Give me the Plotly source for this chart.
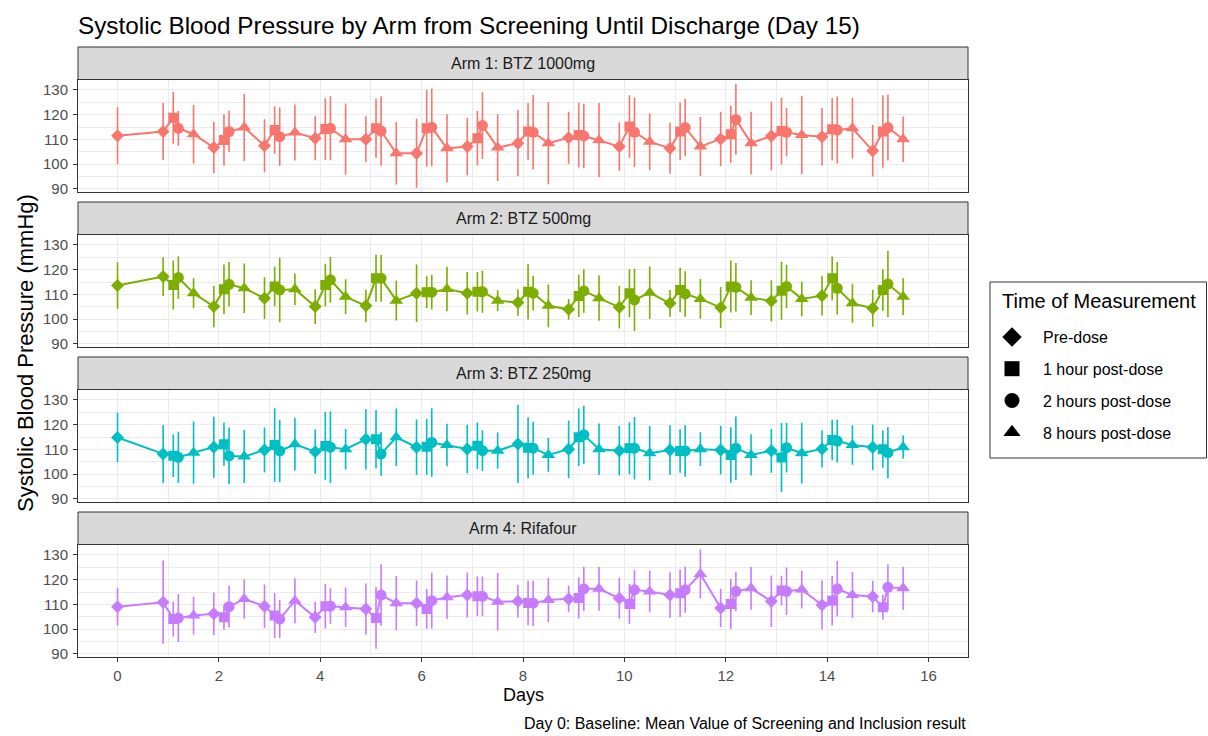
import plotly.graph_objects as go

# ---------------- data ----------------
arm_names = ["Arm 1: BTZ 1000mg", "Arm 2: BTZ 500mg", "Arm 3: BTZ 250mg", "Arm 4: Rifafour"]
arm_colors = ["#F8766D", "#7CAE00", "#00BFC4", "#C77CFF"]

timepoints = ["Pre-dose", "1 hour post-dose", "2 hours post-dose", "8 hours post-dose"]
timepoint_offset = [-0.1, 0.1, 0.2, 0.5]          # day offset of each measurement
timepoint_symbol = ["diamond", "square", "circle", "triangle-up"]
timepoint_msize = [10, 10, 11, 12]
study_days = list(range(1, 16))

# order: day 0 baseline (pre-dose), then day 1..15 x [pre, 1h, 2h, 8h]
arm1_mean = [111.5,
             113.2, 118.8, 114.5, 112.1,
             106.7, 109.8, 113.2, 114.8,
             107.5, 113.8, 111.1, 112.8,
             110.5, 114.2, 114.5, 110.1,
             110.1, 114.5, 113.4, 104.4,
             104.4, 114.5, 114.9, 106.4,
             107.1, 110.5, 115.6, 106.7,
             108.5, 113.2, 112.9, 108.5,
             110.7, 111.8, 111.4, 109.7,
             107.1, 115.2, 112.9, 109.1,
             106.4, 113.2, 114.8, 107.1,
             110.2, 112.1, 118.1, 108.5,
             111.4, 113.4, 112.9, 111.8,
             111.1, 114.1, 113.8, 114.5,
             105.4, 113.2, 114.8, 110.1]
arm1_sd = [11.5,
           11.5, 10.5, 7.0, 11.8,
           10.4, 10.4, 8.4, 13.5,
           10.7, 9.6, 11.8, 11.3,
           8.9, 12.4, 12.9, 14.4,
           9.3, 12.0, 14.0, 12.6,
           14.0, 15.5, 15.7, 13.8,
           11.6, 11.0, 13.5, 13.5,
           13.4, 11.5, 15.0, 16.5,
           10.5, 13.0, 13.0, 15.0,
           9.7, 12.6, 14.0, 11.4,
           10.3, 11.6, 11.6, 12.0,
           11.0, 11.5, 14.3, 12.7,
           13.8, 13.5, 9.8, 15.8,
           11.6, 12.6, 13.5, 12.2,
           10.4, 14.6, 13.3, 9.2]

arm2_mean = [113.6,
             117.2, 113.8, 116.8, 110.5,
             105.1, 112.1, 114.1, 112.5,
             108.5, 113.2, 111.8, 112.1,
             105.1, 113.8, 115.9, 109.1,
             105.4, 116.5, 116.5, 107.5,
             110.5, 110.9, 110.9, 112.2,
             110.5, 111.1, 111.1, 107.5,
             106.7, 111.1, 110.5, 105.4,
             104.0, 109.4, 111.4, 108.5,
             104.8, 110.5, 107.8, 110.7,
             106.4, 111.8, 110.2, 108.2,
             104.7, 113.2, 112.9, 108.7,
             107.4, 111.5, 113.2, 108.2,
             109.5, 116.5, 112.5, 106.4,
             104.4, 111.8, 114.2, 109.1]
arm2_sd = [9.4,
           7.8, 9.9, 8.6, 6.0,
           8.3, 10.0, 9.0, 10.0,
           8.4, 8.0, 13.0, 6.4,
           7.0, 8.6, 9.3, 7.0,
           6.6, 9.5, 9.5, 8.0,
           11.6, 6.4, 7.0, 9.0,
           8.6, 8.0, 8.5, 4.2,
           5.4, 11.2, 7.0, 8.6,
           4.2, 8.5, 8.8, 9.1,
           8.6, 9.7, 12.6, 10.6,
           5.4, 9.0, 9.2, 8.0,
           8.3, 10.5, 9.8, 7.0,
           8.3, 11.7, 8.8, 7.0,
           8.0, 8.8, 10.6, 7.8,
           7.4, 8.4, 13.3, 7.4]

arm3_mean = [114.8,
             108.2, 107.5, 106.8, 108.7,
             110.9, 112.1, 107.4, 107.1,
             109.8, 111.8, 109.4, 112.1,
             109.1, 111.4, 110.9, 110.1,
             114.1, 114.1, 108.2, 114.9,
             110.9, 111.1, 112.8, 111.8,
             110.2, 111.5, 109.5, 109.5,
             112.2, 110.7, 110.5, 107.8,
             110.1, 114.9, 115.9, 110.1,
             109.5, 110.5, 110.5, 108.5,
             109.8, 109.4, 109.4, 110.1,
             109.8, 107.8, 110.5, 107.8,
             109.5, 106.7, 110.7, 108.5,
             110.2, 113.8, 113.4, 111.8,
             110.9, 110.1, 108.7, 110.9]
arm3_sd = [10.0,
           11.7, 8.6, 10.3, 12.6,
           12.3, 8.7, 11.5, 10.7,
           9.1, 14.8, 12.6, 10.6,
           8.9, 13.7, 14.5, 8.2,
           12.2, 11.8, 8.8, 11.6,
           11.2, 11.3, 13.8, 8.6,
           9.8, 9.4, 8.2, 7.3,
           15.8, 12.3, 10.7, 6.8,
           11.6, 11.6, 11.7, 10.4,
           10.0, 10.5, 12.6, 11.0,
           10.0, 8.8, 10.4, 6.8,
           9.8, 11.2, 12.8, 8.3,
           8.9, 14.0, 10.0, 12.3,
           7.5, 8.2, 8.7, 8.0,
           9.2, 7.5, 10.4, 4.7]

arm4_mean = [109.1,
             110.9, 104.1, 104.5, 105.5,
             106.2, 104.8, 109.1, 112.2,
             109.3, 105.5, 104.1, 111.5,
             104.8, 109.3, 109.3, 108.9,
             108.2, 104.5, 113.8, 110.5,
             110.5, 108.2, 111.5, 112.9,
             113.8, 113.3, 113.3, 111.1,
             111.3, 110.6, 110.5, 111.8,
             112.2, 112.6, 116.3, 116.3,
             112.5, 110.2, 115.9, 115.2,
             113.8, 114.5, 115.9, 122.3,
             108.6, 110.2, 115.3, 116.5,
             111.3, 115.6, 115.3, 116.0,
             109.8, 111.5, 116.3, 113.8,
             113.2, 108.9, 116.9, 116.5]
arm4_sd = [7.6,
           16.8, 7.0, 9.7, 7.6,
           8.6, 5.0, 8.4, 7.9,
           8.8, 9.1, 7.7, 9.1,
           6.3, 9.0, 7.2, 7.9,
           10.3, 12.4, 12.4, 11.0,
           9.2, 8.0, 11.3, 8.8,
           9.1, 8.0, 8.0, 11.6,
           6.6, 9.0, 9.2, 9.0,
           5.4, 8.3, 8.9, 8.8,
           8.3, 8.1, 7.9, 8.4,
           9.2, 9.6, 9.3, 9.9,
           7.7, 10.1, 7.9, 8.6,
           10.4, 6.0, 9.6, 7.6,
           9.9, 10.0, 11.2, 9.3,
           6.4, 5.0, 9.2, 8.7]

x_ticks = [0, 2, 4, 6, 8, 10, 12, 14, 16]
y_ticks = [90, 100, 110, 120, 130]

means = [arm1_mean, arm2_mean, arm3_mean, arm4_mean]
sds = [arm1_sd, arm2_sd, arm3_sd, arm4_sd]

# x values, symbols, sizes built from the design above
xs = [0.0]
syms = [timepoint_symbol[0]]
sizes = [timepoint_msize[0]]
for d in study_days:
    for k in range(4):
        xs.append(d + timepoint_offset[k])
        syms.append(timepoint_symbol[k])
        sizes.append(timepoint_msize[k])

# ---------------- layout geometry (pixels) ----------------
W, H = 1208, 736
ML, MR, MT, MB = 78, 240, 47, 79
plot_w = W - ML - MR
plot_h = H - MT - MB


def px(pix):
    return (pix - ML) / plot_w


def py(pix):
    return (H - MB - pix) / plot_h


FONT = "Liberation Sans, Arial, Helvetica, sans-serif"
fig = go.Figure()

layout = dict(
    width=W, height=H,
    margin=dict(l=ML, r=MR, t=MT, b=MB),
    paper_bgcolor="white", plot_bgcolor="white",
    font=dict(family=FONT, color="#000000"),
    showlegend=True,
)

shapes = []
annotations = []
for i in range(4):
    top_strip = 47 + 155 * i
    top_panel = 79.5 + 155 * i
    bottom_panel = 191.7 + 155 * i
    xa = "xaxis" if i == 0 else f"xaxis{i+1}"
    ya = "yaxis" if i == 0 else f"yaxis{i+1}"
    xr = "x" if i == 0 else f"x{i+1}"
    yr = "y" if i == 0 else f"y{i+1}"
    last = (i == 3)
    layout[xa] = dict(
        domain=[0, 1], anchor=yr, range=[-0.78, 16.78],
        tickvals=x_ticks, showticklabels=last,
        ticks="outside" if last else "", ticklen=4, tickwidth=1, tickcolor="#333333",
        tickfont=dict(size=15, color="#4D4D4D"), ticklabelstandoff=1,
        showgrid=True, gridcolor="#EBEBEB", gridwidth=1.1,
        minor=dict(dtick=1, tick0=1, showgrid=True, gridcolor="#EBEBEB", gridwidth=0.55),
        zeroline=False, showline=True, mirror=True, linecolor="#333333", linewidth=1,
    )
    if i > 0:
        layout[xa]["matches"] = "x"
    layout[ya] = dict(
        domain=[py(bottom_panel), py(top_panel)], anchor=xr, range=[88.9, 134.2],
        tickvals=y_ticks, ticks="outside", ticklen=4, tickwidth=1, tickcolor="#333333",
        tickfont=dict(size=15, color="#4D4D4D"), ticklabelstandoff=2,
        showgrid=True, gridcolor="#EBEBEB", gridwidth=1.1,
        minor=dict(dtick=5, tick0=85, showgrid=True, gridcolor="#EBEBEB", gridwidth=0.55),
        zeroline=False, showline=True, mirror=True, linecolor="#333333", linewidth=1,
    )
    # strip
    shapes.append(dict(type="rect", xref="paper", yref="paper",
                       x0=0, x1=1, y0=py(top_panel), y1=py(top_strip),
                       fillcolor="#D9D9D9", line=dict(color="#333333", width=1), layer="above"))
    annotations.append(dict(text=arm_names[i], xref="paper", yref="paper",
                            x=0.5, y=py((top_strip + top_panel) / 2),
                            xanchor="center", yanchor="middle", showarrow=False,
                            font=dict(size=16, color="#1A1A1A")))

    fig.add_trace(go.Scatter(
        x=xs, y=means[i], xaxis=xr, yaxis=yr,
        mode="lines+markers", showlegend=False,
        line=dict(color=arm_colors[i], width=2),
        marker=dict(symbol=syms, size=sizes, color=arm_colors[i], opacity=1,
                    line=dict(width=0)),
        error_y=dict(type="data", array=sds[i], visible=True, width=0,
                     thickness=1.6, color=arm_colors[i]),
        hoverinfo="skip",
    ))

# legend entries
for k in range(4):
    fig.add_trace(go.Scatter(
        x=[None], y=[None], mode="markers", name=timepoints[k],
        legendgroup=f"g{k}",
        marker=dict(symbol=timepoint_symbol[k], size=15, color="black"),
    ))

# legend box + title drawn separately
shapes.append(dict(type="rect", xref="paper", yref="paper",
                   x0=px(990), x1=px(1206.5), y0=py(458), y1=py(282),
                   fillcolor="white", line=dict(color="#333333", width=1), layer="below"))
annotations += [
    dict(text="Time of Measurement", xref="paper", yref="paper", x=px(1000), y=py(301),
         xanchor="left", yanchor="middle", showarrow=False, font=dict(size=20, color="black")),
    dict(text="Systolic Blood Pressure (mmHg)", xref="paper", yref="paper",
         x=px(25), y=py(353), textangle=-90,
         xanchor="center", yanchor="middle", showarrow=False, font=dict(size=22, color="black")),
    dict(text="Days", xref="paper", yref="paper", x=0.5, y=py(695),
         xanchor="center", yanchor="middle", showarrow=False, font=dict(size=18, color="black")),
    dict(text="Day 0: Baseline: Mean Value of Screening and Inclusion result",
         xref="paper", yref="paper", x=1, y=py(723),
         xanchor="right", yanchor="middle", showarrow=False, font=dict(size=16, color="black")),
]

layout.update(
    shapes=shapes, annotations=annotations,
    title=dict(text="Systolic Blood Pressure by Arm from Screening Until Discharge (Day 15)",
               x=78 / W, xanchor="left", xref="container",
               y=1 - 25 / H, yanchor="middle", yref="container",
               font=dict(size=24.3, color="black")),
    legend=dict(x=px(981), y=py(320), xanchor="left", yanchor="top",
                bgcolor="rgba(0,0,0,0)", borderwidth=0,
                font=dict(size=16, color="black"), tracegroupgap=8,
                itemwidth=52, itemsizing="trace"),
)
fig.update_layout(**layout)
fig.write_html("out.html")
